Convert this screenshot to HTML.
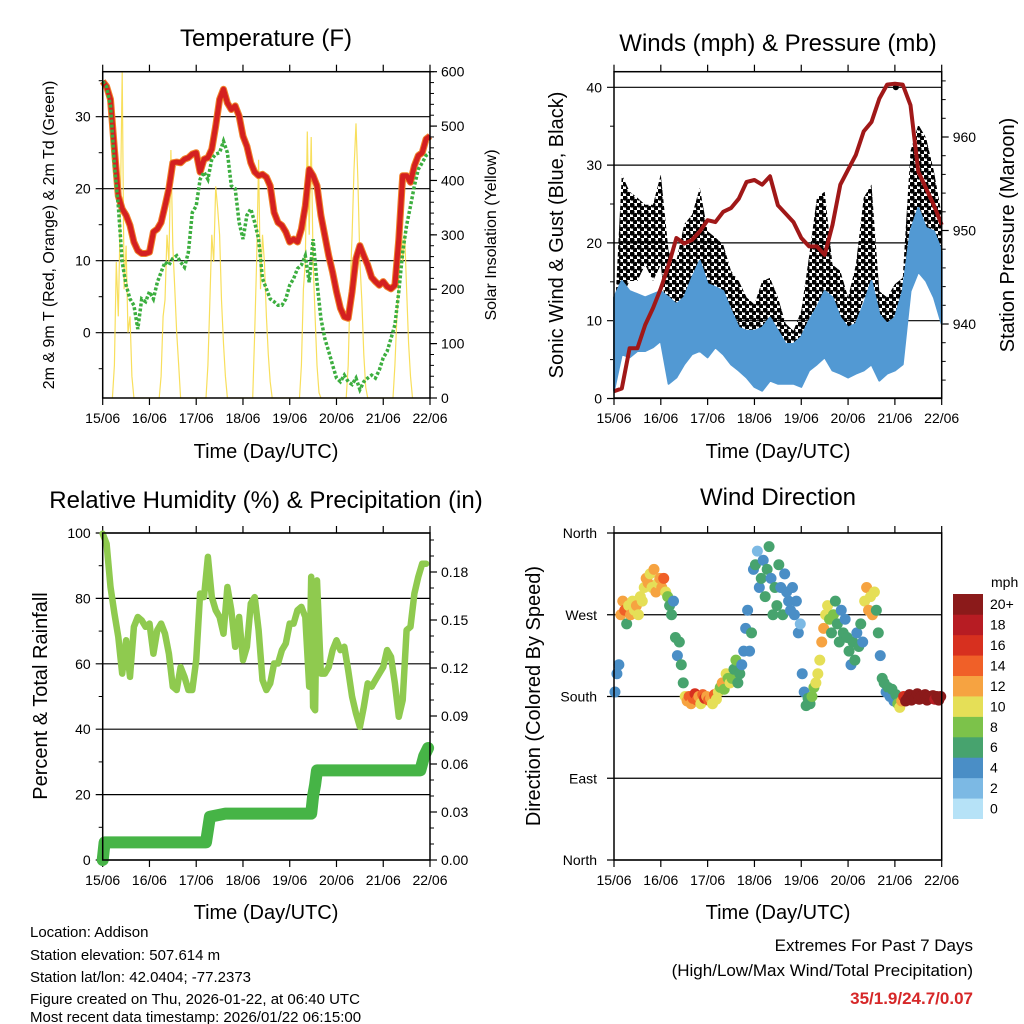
<!DOCTYPE html>
<html><head><meta charset="utf-8"><style>
html,body{margin:0;padding:0;background:#fff;}
svg{display:block;font-family:"Liberation Sans",Arial,sans-serif;}
</style></head><body>
<svg id="root" width="1024" height="1024" viewBox="0 0 1024 1024" xmlns="http://www.w3.org/2000/svg">
<defs>
<pattern id="dotpat" x="0" y="0" width="7" height="7" patternUnits="userSpaceOnUse">
<circle cx="2" cy="2" r="2.6" fill="#000"/>
<circle cx="5.5" cy="5.5" r="2.6" fill="#000"/>
</pattern>
</defs>
<rect x="0" y="0" width="1024" height="1024" fill="#fff"/>
<g font-size="24" text-anchor="middle" fill="#000">
<text x="266" y="46">Temperature (F)</text>
<text x="778" y="51">Winds (mph) &amp; Pressure (mb)</text>
<text x="266" y="508">Relative Humidity (%) &amp; Precipitation (in)</text>
<text x="778" y="505">Wind Direction</text>
</g>
<g font-size="20" text-anchor="middle" fill="#000">
<text x="266" y="458">Time (Day/UTC)</text>
<text x="778" y="458">Time (Day/UTC)</text>
<text x="266" y="919">Time (Day/UTC)</text>
<text x="778" y="919">Time (Day/UTC)</text>
<text transform="translate(54,235) rotate(-90)" font-size="16">2m &amp; 9m T (Red, Orange) &amp; 2m Td (Green)</text>
<text transform="translate(496,235) rotate(-90)" font-size="16">Solar Insolation (Yellow)</text>
<text transform="translate(563,235) rotate(-90)">Sonic Wind &amp; Gust (Blue, Black)</text>
<text transform="translate(1014,235) rotate(-90)">Station Pressure (Maroon)</text>
<text transform="translate(47,696) rotate(-90)">Percent &amp; Total Rainfall</text>
<text transform="translate(540,696) rotate(-90)">Direction (Colored By Speed)</text>
</g>
<g font-size="15" fill="#000">
<text x="30" y="937">Location: Addison</text>
<text x="30" y="960">Station elevation: 507.614 m</text>
<text x="30" y="982">Station lat/lon: 42.0404; -77.2373</text>
<text x="30" y="1004">Figure created on Thu, 2026-01-22, at 06:40 UTC</text>
<text x="30" y="1026" dy="-4">Most recent data timestamp: 2026/01/22 06:15:00</text>
</g>
<g font-size="17" fill="#000" text-anchor="end">
<text x="973" y="951">Extremes For Past 7 Days</text>
<text x="973" y="976">(High/Low/Max Wind/Total Precipitation)</text>
<text x="973" y="1004" fill="#d62728" font-weight="bold">35/1.9/24.7/0.07</text>
</g>
<g id="layer"></g>
</svg>
<script>
// ---------- data ----------
const dayLabels = ['15/06','16/06','17/06','18/06','19/06','20/06','21/06','22/06'];
// temperature (2-hourly from hour 0)
const tempT = [34.9,34.2,32.4,25.5,19,17.2,16.3,14.9,12.6,11.4,11,11,11.2,14,14.4,15.3,17.6,20,23.6,23.7,23.6,24.1,24.3,24.8,25,22.3,24.1,24.3,25.5,28.7,32.4,33.8,31.9,31,31.5,30.1,27.3,25.9,23.6,22.3,21.8,22,21.6,20.4,16.7,15.3,14.9,14,12.6,13,12.6,14.4,17.6,22.7,21.8,20.4,16.3,13.5,10.7,8.4,5.7,3.4,2.2,2,5.7,10.3,12.1,10.7,9.4,7.7,7.1,6.6,7.1,6.4,6.1,6.6,13,21.8,21.8,20.9,23.2,24.6,25,26.9,27.3];
const tempTd = [34.9,34.2,31.5,23.2,17.6,9.8,6.6,4.7,3.8,0.5,4.7,4.3,5.7,4.7,7,8.4,9.8,9.4,10.3,10.7,9.8,9.1,11.2,16.7,17.6,21.3,22.3,21.3,24.1,24.8,25,26.6,25,20.4,20,15.3,13,16.3,17.2,15.3,13,7.5,6.1,4.7,4.3,3.8,3.8,4.7,6.6,7.5,8.9,9.4,10.7,7,13,7,2,-0.8,-2.6,-4.5,-6.3,-6.8,-5.9,-6.8,-7.2,-6.3,-7.9,-6.8,-6.3,-5.9,-6.3,-5.2,-3.5,-2.6,-0.8,1.1,5.7,11.2,14.9,17.6,20.4,22.7,23.6,24.6,25];
const solarHours = [5,6,7,8,9,10,11,12,13,14,15,16, 29,30,31,32,33,34,35,36,37,38,39,40, 53,54,55,56,57,58,59,60,61,62,63,64, 77,78,79,80,81,82,83,84,85,86,87, 101,102,103,104,105,106,107,108,109,110,111,112, 125,126,127,128,129,130,131,132,133,134,135,136, 149,150,151,152,153,154,155,156,157,158,159];
const solarValues = [0,60,250,150,330,600,200,280,120,150,40,0, 0,40,150,180,300,250,456,280,200,120,60,0, 0,60,180,300,250,389,350,300,180,100,40,0, 0,120,250,438,200,300,250,150,80,30,0, 0,60,200,250,490,300,480,250,150,60,10,0, 0,60,200,300,420,505,400,250,180,80,20,0, 0,60,150,220,343,250,300,200,100,40,0];
// winds (4-hourly)
const windHi = [13,15.1,13.8,13.4,13,13.4,13.8,13,12.1,13,15.5,17.7,14.7,14.3,13.8,11.3,9.1,8.7,8.7,9.1,10.4,8.7,7,7,7.9,10,11.7,13.8,13,10.4,9.1,9.6,12.1,15.1,10.8,9.6,10.4,13.8,21.5,24.5,21.9,21.5,18.9];
const windLo = [1,5.7,5.3,6.1,6.1,6.6,7.4,1.9,2.7,4.4,5.7,6.1,5.3,6.6,5.7,4.4,3.6,2.7,1.5,1,2.3,1.9,1.9,1.9,1.5,3.6,4.4,5.3,3.6,3.2,2.7,3.2,3.6,4.4,2.3,3.2,3.6,4.4,13.8,16.3,15.1,13,9.6];
const gustHi = [8.7,28.8,26.6,25.8,24.9,24.9,28.8,18.9,17.7,22.4,23.6,27.1,21.5,20.7,19.8,16.4,15.1,13,12.1,15.1,15.5,13,9.6,8.7,11.3,18.3,25.8,26.6,17.2,16.4,13,17.2,25.8,27.5,13.8,13,14.7,15.5,31.8,35.2,33.5,29.2,23.6];
const gustLo = [1.9,13,15.1,15.1,17.2,15.1,17.2,7.9,8.7,10.4,12.1,13.8,13,11.3,10.4,8.7,7.9,6.6,5.7,5.3,5.7,6.1,4.9,4.4,3.6,9.6,12.1,13.8,10.4,9.1,7.9,8.7,13,13,6.1,6.1,7.9,8.7,18.9,23.6,21.5,18.9,15.1];
const pressure = [932.8,933.1,937.4,937.4,939.9,941.7,943.8,946.3,949.2,948.6,949,949.9,951.1,950.9,952,952.4,953.4,955.2,955.4,954.9,955.8,952.7,951.8,950.9,949.2,948.3,948.3,947.4,950.6,954.9,956.5,958.1,960.6,961.6,964.1,965.6,965.7,965.6,963.4,956.3,954.5,952.7,950.6];
const pressureHours = [0,4,8,12,16,20,24,28,32,36,40,44,48,52,56,60,64,68,72,76,80,84,88,92,96,100,104,108,112,116,120,124,128,132,136,140,144,148,152,156,160,164,168];
// humidity & precipitation
const rhHours = [0,2,4,6,8,10,12,14,16,18,20,22,24,26,28,30,32,34,36,38,40,42,44,46,48,50,52,54,56,58,60,62,64,66,68,70,72,74,76,78,80,82,84,86,88,90,92,94,96,98,100,102,104,106,107,108,109,110,112,114,116,118,120,122,124,126,128,130,132,134,136,138,140,142,144,146,148,150,152,154,156,158,160,162,164,166];
const rhValues = [99.8,96.7,83.5,75.4,68.2,57,67.2,56,71.3,74.3,73.3,71.3,72.3,63.1,70.3,72.3,69.2,63.1,53,52,59,56,52,52,61.1,81.5,80.4,92.7,80.4,76.4,74.3,69.2,83.5,76.4,65.2,74.3,61.1,65.2,78.4,80.4,70.3,55,52,54,60.1,60.1,64.2,66.2,72.3,72.3,76.4,77.4,74.3,53,86.6,46.8,45.8,85.5,57,57,59,64.2,67.2,64.2,65.2,58,49.9,44.8,40.7,46.8,54,53,55,57,59,64.2,62.1,54,43.8,48.9,70.3,71.3,81.5,86.6,90.6,90.6];
const precipHours = [0,1,53,55,63,107,108,109,110,163,165,167];
const precipValues = [0,0.011,0.011,0.027,0.029,0.029,0.04,0.047,0.056,0.056,0.065,0.07];
// wind direction (hourly)
const dirValues = [185,205,215,270,285,275,260,280,270,285,275,280,270,290,285,300,310,305,315,300,320,295,305,310,
300,310,295,290,280,270,285,245,225,240,215,195,180,175,180,172,178,183,176,180,172,182,178,180,
176,178,172,182,177,185,190,195,188,205,200,195,200,210,220,195,205,215,230,255,275,230,250,320,
325,340,300,310,330,290,320,345,310,270,300,280,325,300,270,315,295,285,275,300,270,285,250,260,
205,185,170,178,172,180,190,195,205,220,240,255,270,280,265,250,270,285,260,240,275,250,265,245,
230,215,240,220,250,235,260,240,285,300,275,290,270,295,275,250,225,200,195,185,190,180,188,175,
182,172,168,175,180,175,178,182,176,180,178,183,177,180,178,182,176,180,178,181,177,180,176,180];
const speedValues = [3,4,4,12,11,13,6,10,12,9,10,11,10,9,10,10,11,12,10,10,12,11,9,12,
12,13,10,7,6,5,4,5,4,6,5,6,9,12,14,12,13,15,13,12,10,13,15,12,
13,12,9,14,10,10,8,11,8,9,7,9,8,6,8,6,5,4,4,4,3,4,5,4,
5,2,4,5,4,6,5,6,4,6,5,6,6,4,5,4,4,3,4,3,4,4,3,2,
3,3,6,6,6,7,8,10,10,10,11,12,9,10,8,6,7,6,5,5,4,6,4,5,
6,4,6,5,4,6,5,4,10,12,12,10,11,9,6,6,4,5,6,4,5,4,5,4,
6,8,10,12,16,20,21,20,22,20,21,19,21,20,22,20,21,20,19,21,18,20,20,19];
const speedColors = ['#b6e2f7','#7cb9e4','#4a8ec6','#47a36e','#7cc24a','#e5df57','#f6a341','#f06028','#d7301f','#b71c23','#8b1a1a'];
const speedLabels = ['0','2','4','6','8','10','12','14','16','18','20+'];

// ---------- helpers ----------
const NS = 'http://www.w3.org/2000/svg';
const layer = document.getElementById('layer');
function mk(tag, attrs, parent) {
  const e = document.createElementNS(NS, tag);
  for (const k in attrs) e.setAttribute(k, attrs[k]);
  (parent || layer).appendChild(e);
  return e;
}
function txt(x, y, s, anchor, size, parent) {
  const t = mk('text', {x: x, y: y, 'text-anchor': anchor, 'font-size': size, fill: '#000'}, parent);
  t.textContent = s;
  return t;
}
function linePath(xs, ys) { return xs.map((x, i) => (i ? 'L' : 'M') + x.toFixed(1) + ' ' + ys[i].toFixed(1)).join(' '); }

const P1 = {x0: 102.7, x1: 430, y0: 71.7, y1: 398};
const P2 = {x0: 614, x1: 941.7, y0: 71.7, y1: 398};
const P3 = {x0: 102.7, x1: 430, y0: 533, y1: 860};
const P4 = {x0: 614, x1: 941.7, y0: 533, y1: 860};
function xScale(P) { return h => P.x0 + h * (P.x1 - P.x0) / 168; }

function frame(P, name) {
  const g = mk('g', {});
  
  
  const xs = xScale(P);
  for (let d = 0; d < dayLabels.length; d++) {
    const x = xs(d * 24);
    mk('line', {x1: x, x2: x, y1: P.y1, y2: P.y1 + 7, stroke: '#000', 'stroke-width': 1.2}, g);
    mk('line', {x1: x, x2: x, y1: P.y0, y2: P.y0 - 7, stroke: '#000', 'stroke-width': 1.2}, g);
    const t = txt(x, P.y1 + 25, dayLabels[d], 'middle', 14, g);
    
    
  }
  return g;
}
function border(P) {
  mk('rect', {x: P.x0, y: P.y0, width: P.x1 - P.x0, height: P.y1 - P.y0, fill: 'none', stroke: '#000', 'stroke-width': 1.5});
}
function leftAxis(P, g, vals, yf, minors, fmt) {
  minors.forEach(v => mk('line', {x1: P.x0, x2: P.x0 - 4, y1: yf(v), y2: yf(v), stroke: '#000', 'stroke-width': 1}, g));
  vals.forEach(v => {
    const y = yf(v);
    mk('line', {x1: P.x0 - 7, x2: P.x1, y1: y, y2: y, stroke: '#000', 'stroke-width': 1.2}, g);
    const t = txt(P.x0 - 12, y + 5, fmt(v), 'end', 14, g);
    
    
  });
}
function rightAxis(P, g, vals, yf, minors, fmt) {
  minors.forEach(v => mk('line', {x1: P.x1, x2: P.x1 + 4, y1: yf(v), y2: yf(v), stroke: '#000', 'stroke-width': 1}, g));
  vals.forEach(v => {
    const y = yf(v);
    mk('line', {x1: P.x1, x2: P.x1 + 7, y1: y, y2: y, stroke: '#000', 'stroke-width': 1.2}, g);
    const t = txt(P.x1 + 11, y + 5, fmt(v), 'start', 14, g);
    
    
  });
}
function range(a, b, s) { const r = []; for (let v = a; v <= b + 1e-9; v += s) r.push(+v.toFixed(4)); return r; }

// ---------- Panel 1: temperature ----------
{
  const P = P1, xs = xScale(P);
  const yT = t => 332.7 - t * 7.2;
  const yS = s => P.y1 - s * (P.y1 - P.y0) / 600;
  const g = frame(P, 'temperature');
  leftAxis(P, g, [0, 10, 20, 30], yT, [-5, 5, 15, 25, 35], v => String(v));
  rightAxis(P, g, range(0, 600, 100), yS, range(0, 600, 20), v => String(v));
  const sx = solarHours.map(xs), sy = solarValues.map(yS);
  const sol = mk('path', {d: linePath(sx, sy), fill: 'none', stroke: '#f7dc4a', 'stroke-width': 1.2, opacity: 0.9});
  
  
  const hx = tempT.map((v, i) => xs(i * 2));
  const orange = mk('path', {d: linePath(hx, tempT.map(yT)), fill: 'none', stroke: '#f0822a', 'stroke-width': 7, 'stroke-linejoin': 'round'});
  
  
  const red = mk('path', {d: linePath(hx, tempT.map(yT)), fill: 'none', stroke: '#d42020', 'stroke-width': 5, 'stroke-linejoin': 'round'});
  
  
  const dx = tempTd.map((v, i) => xs(i * 2));
  const dew = mk('path', {d: linePath(dx, tempTd.map(yT)), fill: 'none', stroke: '#3cae3f', 'stroke-width': 3.5, 'stroke-dasharray': '3 2'});
  
  
  border(P);
}

// ---------- Panel 2: winds & pressure ----------
{
  const P = P2, xs = xScale(P);
  const yW = w => 398.5 - w * 7.78;
  const yP = p => 324 - (p - 940) * 9.35;
  const g = frame(P, 'winds');
  leftAxis(P, g, [0, 10, 20, 30, 40], yW, [5, 15, 25, 35], v => String(v));
  rightAxis(P, g, [940, 950, 960], yP, range(934, 966, 2), v => String(v));
  const hx = pressureHours.map(xs);
  const gustPts = hx.map((x, i) => x.toFixed(1) + ',' + yW(gustHi[i]).toFixed(1)).concat(hx.map((x, i) => x.toFixed(1) + ',' + yW(gustLo[i]).toFixed(1)).reverse());
  const gust = mk('polygon', {points: gustPts.join(' '), fill: 'url(#dotpat)', stroke: 'none'});
  
  
  const outlier = mk('circle', {cx: xs(144.5), cy: yW(40), r: 3, fill: '#000'});
  
  
  const windPts = hx.map((x, i) => x.toFixed(1) + ',' + yW(windHi[i]).toFixed(1)).concat(hx.map((x, i) => x.toFixed(1) + ',' + yW(windLo[i]).toFixed(1)).reverse());
  const wind = mk('polygon', {points: windPts.join(' '), fill: '#5299d3', stroke: '#5299d3', 'stroke-width': 2, 'stroke-linejoin': 'round'});
  
  
  const pr = mk('path', {d: linePath(hx, pressure.map(yP)), fill: 'none', stroke: '#a01818', 'stroke-width': 4, 'stroke-linejoin': 'round'});
  
  
  border(P);
}

// ---------- Panel 3: humidity & precip ----------
{
  const P = P3, xs = xScale(P);
  const yR = r => P.y1 - r * 3.27;
  const yPr = v => P.y1 - v * 1600;
  const g = frame(P, 'humidity');
  leftAxis(P, g, [0, 20, 40, 60, 80, 100], yR, range(10, 90, 20), v => String(v));
  rightAxis(P, g, range(0, 0.18, 0.03), yPr, range(0, 0.2, 0.01), v => v.toFixed(2));
  const rh = mk('path', {d: linePath(rhHours.map(xs), rhValues.map(yR)), fill: 'none', stroke: '#8fca4f', 'stroke-width': 6.5, 'stroke-linejoin': 'round', 'stroke-linecap': 'round'});
  
  
  const pr = mk('path', {d: linePath(precipHours.map(xs), precipValues.map(yPr)), fill: 'none', stroke: '#46b446', 'stroke-width': 12, 'stroke-linejoin': 'round', 'stroke-linecap': 'round'});
  
  
  border(P);
}

// ---------- Panel 4: wind direction ----------
{
  const P = P4, xs = xScale(P);
  const yD = d => P.y1 - d * (P.y1 - P.y0) / 360;
  const g = frame(P, 'direction');
  const dirTicks = [0, 90, 180, 270, 360];
  const dirNames = ['North', 'East', 'South', 'West', 'North'];
  dirTicks.forEach((d, i) => {
    const y = yD(d);
    mk('line', {x1: P.x0 - 7, x2: P.x1, y1: y, y2: y, stroke: '#000', 'stroke-width': 1.2}, g);
    const t = txt(P.x0 - 17, y + 5, dirNames[i], 'end', 14, g);
    
    
  });
  const dots = mk('g', {});
  
  
  dirValues.forEach((d, i) => {
    const ci = Math.min(10, Math.round(speedValues[i] / 2));
    const c = mk('circle', {cx: xs(i + 0.5), cy: yD(d), r: 5.5, fill: speedColors[ci]}, dots);
    
    
  });
  border(P);
  const cb = mk('g', {});
  
  
  const bh = (818.7 - 594) / 11;
  for (let i = 0; i < 11; i++) {
    const top = 594 + (10 - i) * bh;
    const r = mk('rect', {x: 953, y: top, width: 30, height: bh + 0.3, fill: speedColors[i]}, cb);
    
    
    const t = txt(990, top + bh / 2 + 5, speedLabels[i], 'start', 14, cb);
    
    
  }
  const u = txt(991, 587, 'mph', 'start', 14, cb);
  
  
}
</script>
</body></html>
